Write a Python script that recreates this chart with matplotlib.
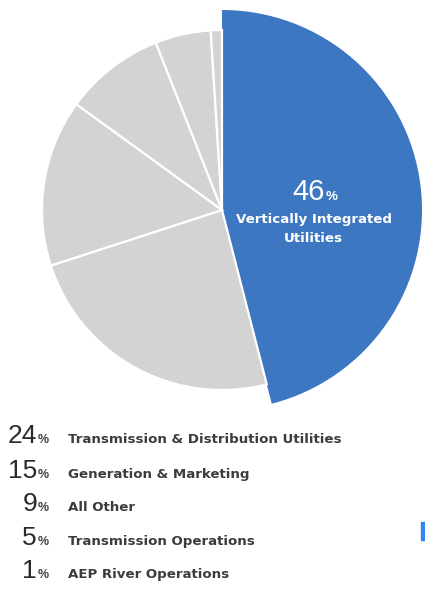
import matplotlib
matplotlib.use("Agg")
import matplotlib.pyplot as plt
from matplotlib.patches import Rectangle

# segment shares (percent), clockwise from 12 o'clock
shares = [46, 24, 15, 9, 5, 1]
segments = ["Vertically Integrated\nUtilities",
            "Transmission & Distribution Utilities",
            "Generation & Marketing",
            "All Other",
            "Transmission Operations",
            "AEP River Operations"]
highlight = 0

W, H = 425, 592
BLUE = "#3d77c2"
GREY = "#d3d3d3"
TXT = "#2a2a2a"


def fx(px):
    return px / W


def fy(py):
    return 1 - py / H


fig = plt.figure(figsize=(W / 100, H / 100), dpi=100)
fig.patch.set_facecolor("white")

# pie axes centred on (222, 210) px, blue radius 200 px
cx, cy, r = 222, 210, 200
ax = fig.add_axes([fx(cx - r), fy(cy + r), 2 * r / W, 2 * r / H])
colors = [BLUE if i == highlight else GREY for i in range(len(shares))]
wedges, _ = ax.pie(shares, colors=colors, startangle=90, counterclock=False,
                   wedgeprops=dict(edgecolor="white", linewidth=1.6))
for i, w in enumerate(wedges):
    if i != highlight:
        w.set_radius(0.9)
    else:
        w.set_edgecolor("none")
ax.set_xlim(-1, 1)
ax.set_ylim(-1, 1)
ax.set_aspect("equal")
ax.axis("off")

# label inside the blue wedge
ax.text(0.515, 0.05, f"{shares[highlight]}", color="white", fontsize=21,
        ha="right", va="baseline", family="Liberation Sans")
ax.text(0.52, 0.05, "%", color="white", fontsize=9.5,
        ha="left", va="baseline", family="Liberation Sans", fontweight="bold")
for line, yb in zip(segments[highlight].split("\n"), [-0.065, -0.16]):
    ax.text(0.4575, yb, line, color="white", fontsize=9.6,
            ha="center", va="baseline", fontweight="bold",
            family="DejaVu Sans")

# list of the other segments
baselines = [443, 478, 511, 545, 578]
for s, name, yb in zip(shares[1:], segments[1:], baselines):
    fig.text(fx(37), fy(yb), f"{s}", fontsize=19, color=TXT,
             ha="right", va="baseline", family="Liberation Sans")
    fig.text(fx(38), fy(yb), "%", fontsize=9, color="#444444",
             ha="left", va="baseline", family="Liberation Sans",
             fontweight="bold")
    fig.text(fx(68), fy(yb), name, fontsize=9.6, color="#3c3c3c",
             ha="left", va="baseline", fontweight="bold",
             family="DejaVu Sans")

# small cropped blue mark at the right edge
fig.patches.append(Rectangle((fx(421), fy(540)), fx(4), 18 / H,
                             transform=fig.transFigure, color="#2f86f0"))

fig.savefig("out.png", dpi=100)
